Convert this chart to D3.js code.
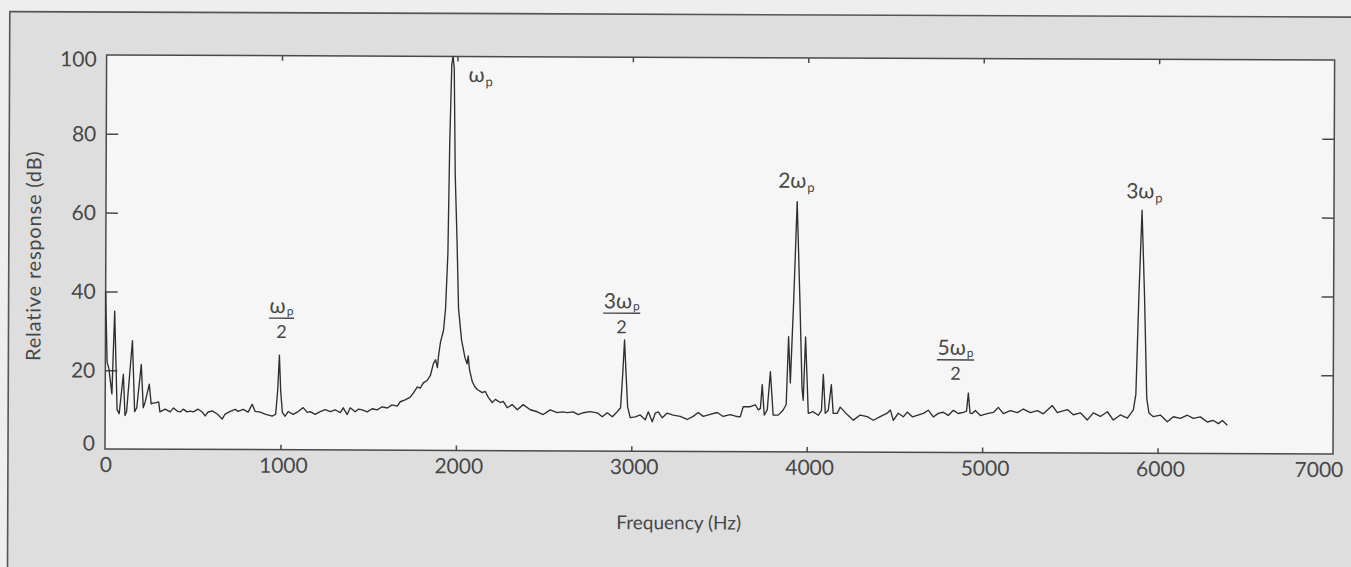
<!DOCTYPE html>
<html><head><meta charset="utf-8">
<script src="https://cdn.jsdelivr.net/npm/d3@7"></script>
<style>
html,body{margin:0;padding:0;background:#eeeeee;overflow:hidden}
svg{display:block}
text{font-family:Lato,"DejaVu Sans",sans-serif;fill:#474747}
</style></head><body>
<svg id="c" width="1351" height="567"></svg>
<script>
// ---- data ----
const freqHz = [0,10,20,38,52,68,80,103,113,122,154,168,180,205,217,228,251,262,270,290,305,312,342,371,390,410,428,445,467,485,502,530,553,570,587,610,639,667,684,713,741,758,787,815,838,855,884,912,952,972,983,992,1000,1010,1026,1043,1072,1100,1129,1152,1169,1197,1226,1254,1283,1311,1340,1357,1380,1397,1425,1445,1465,1494,1522,1551,1579,1608,1636,1665,1682,1710,1739,1756,1779,1796,1813,1836,1853,1870,1882,1893,1899,1910,1927,1938,1950,1958,1968,1975,1982,1990,2002,2012,2030,2050,2062,2068,2076,2092,2105,2121,2149,2166,2184,2206,2224,2252,2269,2292,2320,2349,2383,2423,2463,2497,2537,2577,2605,2634,2668,2697,2725,2765,2805,2834,2862,2891,2919,2938,2950,2959,2968,2978,2993,3022,3050,3079,3096,3119,3136,3153,3176,3204,3238,3278,3318,3352,3381,3409,3449,3489,3523,3563,3603,3620,3637,3677,3706,3723,3735,3745,3757,3774,3791,3808,3837,3865,3882,3894,3905,3922,3940,3958,3972,3979,3991,4008,4036,4065,4083,4093,4105,4122,4139,4150,4173,4190,4230,4265,4304,4344,4379,4418,4458,4476,4493,4521,4550,4572,4601,4629,4664,4692,4721,4749,4778,4806,4835,4863,4892,4910,4920,4930,4943,4960,4989,5028,5063,5091,5120,5160,5200,5234,5274,5314,5348,5399,5428,5445,5485,5519,5559,5599,5633,5673,5713,5747,5787,5827,5861,5875,5890,5906,5922,5937,5950,5975,6015,6055,6089,6129,6169,6203,6243,6283,6317,6346,6369,6397];
const responseDb = [40,22,20.5,14,35,10,9,19,8.5,9.5,27.5,9.5,10.5,21.5,10.5,12,16.5,11.5,11.7,11.8,12,9.5,10.2,9.5,10.5,9.7,9.5,10.2,9.5,9.7,9.5,10.2,9.5,8.5,9.5,9.8,9.0,7.7,9.0,9.7,10.2,9.7,10.2,9.5,11.5,9.7,9.5,9.0,8.5,9,15,24,15,9.5,8.5,9.7,9.0,9.7,10.7,9.5,9.7,9.0,9.7,10.2,9.7,10.2,9.5,10.7,9.0,10.7,9.7,10.4,10.2,9.7,10.5,10.2,11.0,10.7,11.5,11.2,12.3,12.8,13.5,14.5,16.1,15.8,17.1,17.8,19,22,23,21,24,27.5,30.5,36,50,78,98,100,97,70,53,36,28,23.5,22,24,20.5,17.5,16.3,15.5,14.7,15,13.5,12.2,13,12.2,12.5,10.9,11.7,10.4,11.7,10.4,9.9,9.2,10.4,9.7,9.9,9.7,9.9,9.2,9.7,10,9.7,8.7,9.7,8.7,10,11,20,28.2,20,11.3,8.5,8.7,9.2,8,10,7.5,9.7,10,8.5,9.7,9.2,8.9,8.1,8.9,9.9,8.9,9.4,9.9,8.9,9.4,8.9,8.8,11.4,11.4,11.9,10.6,11,17,9.3,10.6,20.3,9.3,9.3,10.6,12,29.2,17.5,38,63.5,38,16,13.1,29.2,9.8,10.2,9.3,10.5,19.7,9.8,10.6,17.1,9.8,9.8,11.4,9.5,8.1,9.4,9,8.1,9,9.9,10.7,8.1,9.9,9,10.2,9,9.4,9.9,10.7,9,9.9,10.2,9.4,10.7,9.9,10.2,10.5,15.1,10,9.9,10.7,9.4,9.9,10.2,11.5,9.9,10.7,10.2,11.1,10.2,10.7,9.9,12,10.2,10.5,11,9.7,10.2,8.4,10.2,9.3,10.5,8.4,9.7,8.9,11,15,40,61.7,40,14,10.2,9.3,9.7,8,9.3,8.9,9.7,8.9,9.3,8,8.4,7.6,8.4,7.2];
const xTicks = [0,1000,2000,3000,4000,5000,6000,7000];
const yTicks = [0,20,40,60,80,100];
const xTitle = "Frequency (Hz)";
const yTitle = "Relative response (dB)";
const peakNumerators = ["ω","ω","3ω","2ω","5ω","3ω"];
const peakSubscript = "p";
const peakDenominator = "2";
const peakLabelFreq = [2064,1003,2942,3831,4846,5815];
const peakLabelDb = [93.5,33.4,35,67,23.5,64.7];
const peakIsFraction = [false,true,true,false,true,false];

// ---- drawing ----
const svg = d3.select("#c");
const g = svg.append("g").attr("transform","rotate(0.235,105,449)");

g.append("rect").attr("x",8).attr("y",12).attr("width",1400).attr("height",620)
  .attr("fill","#dedede").attr("stroke","#555").attr("stroke-width",1.6);

const x = d3.scaleLinear().domain([0,7000]).range([105,1333]);
const y = d3.scaleLinear().domain([0,100]).range([449,55]);

g.append("rect").attr("x",x(0)).attr("y",y(100)).attr("width",x(7000)-x(0)).attr("height",y(0)-y(100))
  .attr("fill","#f6f6f6").attr("stroke","#4a4a4a").attr("stroke-width",1.5);

// axes (ticks inward)
const axStyle = sel => { sel.select(".domain").remove(); sel.selectAll("line").attr("stroke","#4a4a4a").attr("stroke-width",1.5); sel.selectAll("text").remove(); };
g.append("g").attr("transform",`translate(0,${y(0)})`)
  .call(d3.axisBottom(x).tickValues(xTicks.slice(1,-1)).tickSizeInner(-5).tickSizeOuter(0)).call(axStyle);
g.append("g").attr("transform",`translate(0,${y(100)})`)
  .call(d3.axisTop(x).tickValues(xTicks.slice(1,-1)).tickSizeInner(-5).tickSizeOuter(0)).call(axStyle);
g.append("g").attr("transform",`translate(${x(0)},0)`)
  .call(d3.axisLeft(y).tickValues(yTicks.slice(1,-1)).tickSizeInner(-12).tickSizeOuter(0)).call(axStyle);
g.append("g").attr("transform",`translate(${x(7000)},0)`)
  .call(d3.axisRight(y).tickValues(yTicks.slice(1,-1)).tickSizeInner(-12).tickSizeOuter(0)).call(axStyle);

// tick labels
g.selectAll(".xl").data(xTicks).join("text").attr("class","xl")
  .attr("x",d=>x(d) + (d===7000?-14:(d===0?1:3))).attr("y",y(0)+23)
  .attr("text-anchor","middle").attr("font-size",21).text(d=>d);
g.selectAll(".yl").data(yTicks).join("text").attr("class","yl")
  .attr("x",95).attr("y",d=>y(d)+ (d===0?-6:(d===100?4:0)))
  .attr("dy","0.36em").attr("text-anchor","end").attr("font-size",21).text(d=>d);

// titles
g.append("text").attr("x",679).attr("y",527).attr("text-anchor","middle").attr("font-size",19).text(xTitle);
g.append("text").attr("transform","translate(40,256) rotate(-90)").attr("text-anchor","middle")
  .attr("font-size",20).attr("letter-spacing",0.8).text(yTitle);

// spectrum line
const data = freqHz.map((f,i)=>[f,responseDb[i]]);
g.append("path").datum(data)
  .attr("d",d3.line().x(d=>x(d[0])).y(d=>y(d[1])))
  .attr("fill","none").attr("stroke","#2f2f2f").attr("stroke-width",1.35).attr("stroke-linejoin","round");

// peak labels
peakNumerators.forEach((num,i)=>{
  const px = x(peakLabelFreq[i]), py = y(peakLabelDb[i]);
  if(!peakIsFraction[i]){
    const t = g.append("text").attr("x",px).attr("y",py).attr("font-size",21);
    t.append("tspan").text(num);
    t.append("tspan").attr("font-size",13).attr("dy",4).attr("dx",1).text(peakSubscript);
  } else {
    const t = g.append("text").attr("x",px).attr("y",py-5).attr("text-anchor","middle").attr("font-size",21);
    t.append("tspan").text(num);
    t.append("tspan").attr("font-size",12).attr("dy",2).attr("dx",1).text(peakSubscript);
    const w = t.node().getBBox().width + 1;
    g.append("line").attr("x1",px-w/2).attr("x2",px+w/2).attr("y1",py).attr("y2",py)
      .attr("stroke","#474747").attr("stroke-width",1.4);
    g.append("text").attr("x",px).attr("y",py+20).attr("text-anchor","middle").attr("font-size",18).text(peakDenominator);
  }
});
</script>
</body></html>
